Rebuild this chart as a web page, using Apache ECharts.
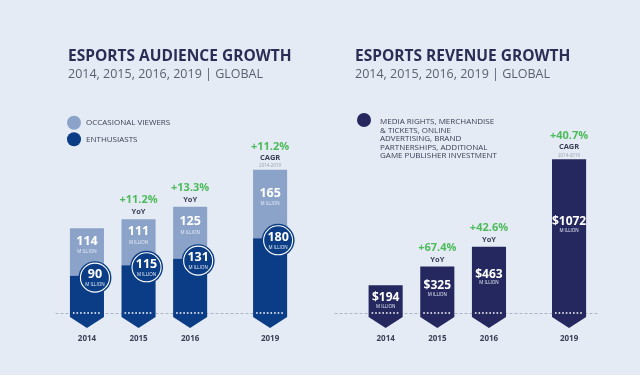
<!DOCTYPE html>
<html>
<head>
<meta charset="utf-8">
<script src="https://cdn.jsdelivr.net/npm/echarts@6/dist/echarts.min.js"></script>
<style>
html, body { margin: 0; padding: 0; background: #e4ebf4; }
#chart { width: 640px; height: 375px; }
</style>
</head>
<body>
<div id="chart"></div>
<script>
const years = ['2014', '2015', '2016', '2019']
const occasional = [114, 111, 125, 165]
const enthusiasts = [90, 115, 131, 180]
const revenue = [194, 325, 463, 1072]
const audienceGrowth = ['', '+11.2%', '+13.3%', '+11.2%']
const revenueGrowth = ['', '+67.4%', '+42.6%', '+40.7%']
const growthNote = ['', 'YoY', 'YoY', 'CAGR']
const revenueLegend = ['MEDIA RIGHTS, MERCHANDISE', '& TICKETS, ONLINE', 'ADVERTISING, BRAND',
  'PARTNERSHIPS, ADDITIONAL', 'GAME PUBLISHER INVESTMENT']

// 2017 and 2018 are skipped, so 2019 sits a little further out
const slots = [0, 1, 2, 3.55]

const FONT = '"Open Sans", sans-serif'
const LIGHT = '#8ba3c8', DARK = '#0b3d86', NAVY = '#25285f', GREEN = '#4dbb5b', INK = '#2a2e55'

function txt(text, x, y, size, fill, weight) {
  return { type: 'text', style: { text, x, y, align: 'center', verticalAlign: 'middle',
    fill, font: `${weight || 'bold'} ${size}px ${FONT}` } }
}

function growthLabels(i, cx, topY, growth) {
  if (!growth[i]) return []
  const cagr = growthNote[i] === 'CAGR'
  const out = [
    txt(growth[i], cx, topY - (cagr ? 23 : 19), 11, GREEN),
    txt(growthNote[i], cx, topY - (cagr ? 12 : 7), 7.5, '#3a3f55')
  ]
  if (cagr) out.push(txt('2014-2019', cx, topY - 4, 4.5, '#9aa0ad', 'normal'))
  return out
}

// bar body that ends in an arrow point under the baseline
function arrowPoly(x0, x1, yTop, yBase) {
  const cx = (x0 + x1) / 2
  return [[x0, yTop], [x1, yTop], [x1, yBase + 4], [cx, yBase + 15], [x0, yBase + 4]]
}

function dots(x0, x1, y) {
  return { type: 'line', shape: { x1: x0 + 3, y1: y, x2: x1 - 3, y2: y },
    style: { stroke: '#fff', lineWidth: 1.4, lineDash: [1.6, 2] } }
}

function audienceItem(params, api) {
  const i = params.dataIndex
  const x = api.value(0), e = api.value(1), o = api.value(2)
  const base = api.coord([x, 0])[1], split = api.coord([x, e])[1], top = api.coord([x, e + o])[1]
  const cx = api.coord([x, 0])[0]
  const w = api.size([1, 0])[0] * 0.66
  const x0 = cx - w / 2, x1 = cx + w / 2
  const mid = (top + split - 14) / 2
  const ccx = cx + 8, ccy = split + 2
  return { type: 'group', children: [
    { type: 'rect', shape: { x: x0, y: top, width: w, height: split - top }, style: { fill: LIGHT } },
    { type: 'polygon', shape: { points: arrowPoly(x0, x1, split, base) }, style: { fill: DARK } },
    dots(x0, x1, base),
    txt(String(o), cx, mid - 4, 12.5, '#fff'),
    txt('M ILLION', cx, mid + 7, 4.5, '#e8eef8', 'normal'),
    { type: 'circle', shape: { cx: ccx, cy: ccy, r: 16.5 }, style: { fill: DARK } },
    { type: 'circle', shape: { cx: ccx, cy: ccy, r: 14.5 }, style: { fill: 'none', stroke: '#fff', lineWidth: 1.1 } },
    txt(String(e), ccx, ccy - 3, 12.5, '#fff'),
    txt('M ILLION', ccx, ccy + 7, 4.5, '#e8eef8', 'normal'),
    ...growthLabels(i, cx, top, audienceGrowth)
  ] }
}

function revenueItem(params, api) {
  const i = params.dataIndex
  const x = api.value(0), v = api.value(1)
  const base = api.coord([x, 0])[1], top = api.coord([x, v])[1]
  const cx = api.coord([x, 0])[0]
  const w = api.size([1, 0])[0] * 0.66
  const x0 = cx - w / 2, x1 = cx + w / 2
  const ty = top + (base - top) * 0.4 + 1
  return { type: 'group', children: [
    { type: 'polygon', shape: { points: arrowPoly(x0, x1, top, base) }, style: { fill: NAVY } },
    dots(x0, x1, base),
    txt('$' + v, cx, ty, 12, '#fff'),
    txt('M ILLION', cx, ty + 9, 4.5, '#e8eef8', 'normal'),
    ...growthLabels(i, cx, top, revenueGrowth)
  ] }
}

function xAxisFor(gridIndex, min, max) {
  return { type: 'value', gridIndex, min, max, splitLine: { show: false },
    axisLine: { lineStyle: { color: '#aab3c3', type: [2, 3], width: 1 } },
    axisTick: { show: false },
    axisLabel: { customValues: slots, formatter: v => years[slots.indexOf(v)], margin: 22,
      color: '#3a3f55', fontSize: 8, fontWeight: 'bold', fontFamily: FONT } }
}

const legendFont = `8px ${FONT}`
const legendGraphics = [
  { type: 'circle', shape: { cx: 74, cy: 122.7, r: 7 }, style: { fill: LIGHT } },
  { type: 'circle', shape: { cx: 74, cy: 139.3, r: 7 }, style: { fill: DARK } },
  { type: 'text', x: 86, y: 122.7, style: { text: 'OCCASIONAL VIEWERS', fill: '#3a3f55',
    font: legendFont, verticalAlign: 'middle' } },
  { type: 'text', x: 86, y: 139.3, style: { text: 'ENTHUSIASTS', fill: '#3a3f55',
    font: legendFont, verticalAlign: 'middle' } },
  { type: 'circle', shape: { cx: 364, cy: 120, r: 7 }, style: { fill: NAVY } },
  ...revenueLegend.map((line, k) => ({ type: 'text', x: 380, y: 121.7 + k * 8.6,
    style: { text: line, fill: '#3a3f55', font: legendFont, verticalAlign: 'middle' } }))
]

const chart = echarts.init(document.getElementById('chart'), null, { renderer: 'canvas' })
chart.setOption({
  backgroundColor: '#e4ebf4',
  animation: false,
  title: [
    { text: 'ESPORTS AUDIENCE GROWTH', subtext: '2014, 2015, 2016, 2019 | GLOBAL', left: 63, top: 44, itemGap: 3,
      textStyle: { color: INK, fontSize: 15.5, fontWeight: 'bold', fontFamily: FONT },
      subtextStyle: { color: '#5a5f70', fontSize: 12.5, fontFamily: FONT } },
    { text: 'ESPORTS REVENUE GROWTH', subtext: '2014, 2015, 2016, 2019 | GLOBAL', left: 350, top: 44, itemGap: 3,
      textStyle: { color: INK, fontSize: 15.5, fontWeight: 'bold', fontFamily: FONT },
      subtextStyle: { color: '#5a5f70', fontSize: 12.5, fontFamily: FONT } }
  ],
  graphic: legendGraphics,
  grid: [
    { left: 56, right: 357, top: 147, bottom: 62 },
    { left: 335, right: 42, top: 141, bottom: 62 }
  ],
  xAxis: [xAxisFor(0, -0.6, 3.8), xAxisFor(1, -0.98, 4.11)],
  yAxis: [
    { type: 'value', gridIndex: 0, min: 0, max: 400, show: false },
    { type: 'value', gridIndex: 1, min: 0, max: 1200, show: false }
  ],
  series: [
    { name: 'Audience', type: 'custom', xAxisIndex: 0, yAxisIndex: 0, renderItem: audienceItem,
      encode: { x: 0, y: [1, 2] }, data: slots.map((s, i) => [s, enthusiasts[i], occasional[i]]) },
    { name: 'Revenue', type: 'custom', xAxisIndex: 1, yAxisIndex: 1, renderItem: revenueItem,
      encode: { x: 0, y: 1 }, data: slots.map((s, i) => [s, revenue[i]]) }
  ]
})
</script>
</body>
</html>
